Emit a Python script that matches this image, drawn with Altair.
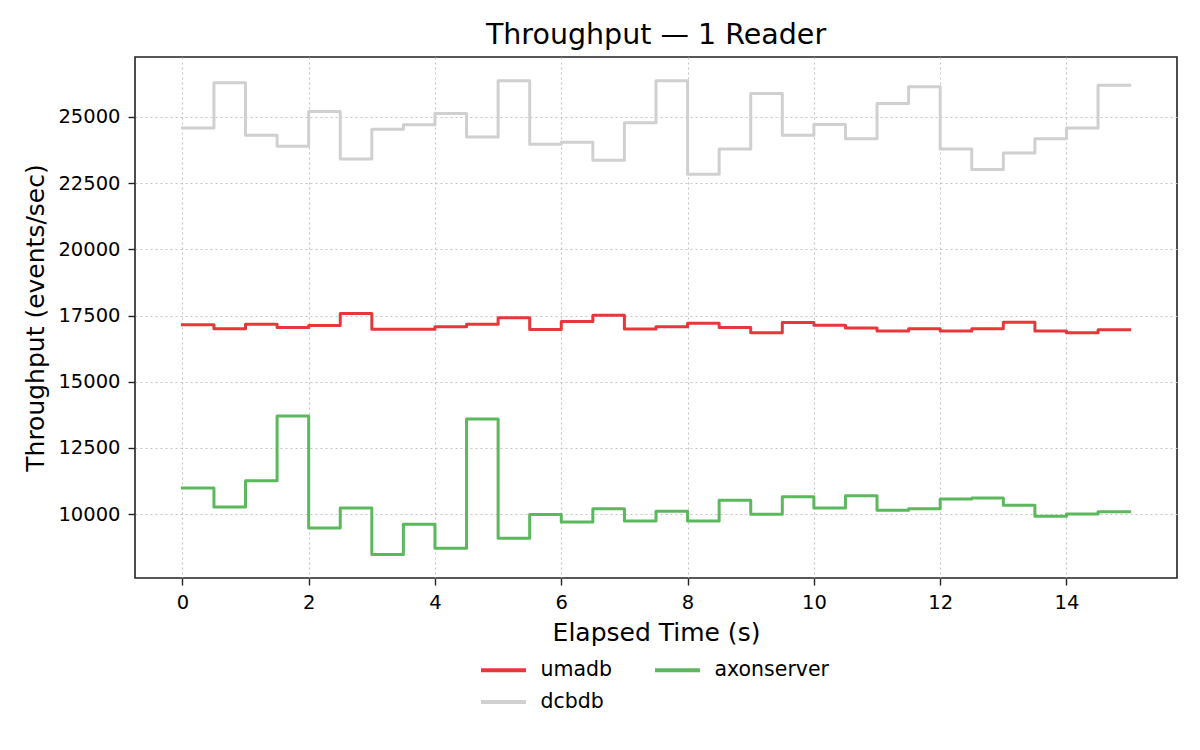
import altair as alt
import pandas as pd

time_s = [0, 0.5, 1, 1.5, 2, 2.5, 3, 3.5, 4, 4.5, 5, 5.5, 6, 6.5, 7, 7.5,
          8, 8.5, 9, 9.5, 10, 10.5, 11, 11.5, 12, 12.5, 13, 13.5, 14, 14.5, 15]

umadb = [17150, 17000, 17170, 17050, 17120, 17580, 16980, 16980, 17080, 17170,
         17420, 16970, 17270, 17510, 16990, 17080, 17210, 17050, 16850, 17240,
         17130, 17030, 16920, 17000, 16920, 17000, 17250, 16920, 16850, 16960, 16960]

dcbdb = [24580, 26290, 24310, 23890, 25200, 23410, 24530, 24700, 25130, 24240,
         26360, 23970, 24040, 23360, 24780, 26360, 22830, 23790, 25880, 24310,
         24710, 24170, 25500, 26140, 23790, 23010, 23640, 24170, 24580, 26190, 26190]

axonserver = [10990, 10270, 11260, 13710, 9480, 10230, 8480, 9620, 8710, 13590,
              9090, 9990, 9700, 10200, 9740, 10110, 9740, 10530, 10000, 10660,
              10230, 10700, 10150, 10200, 10570, 10610, 10340, 9920, 10010, 10090, 10090]

series_names = ["umadb", "dcbdb", "axonserver"]
series_colors = ["#e8373a", "#d0d0d0", "#5cb85c"]
x_ticks = [0, 2, 4, 6, 8, 10, 12, 14]
y_ticks = [10000, 12500, 15000, 17500, 20000, 22500, 25000]

rows = []
for name, vals in [("umadb", umadb), ("dcbdb", dcbdb), ("axonserver", axonserver)]:
    for t, v in zip(time_s, vals):
        rows.append({"t": t, "value": v, "series": name})
df = pd.DataFrame(rows)

W, H = 1042, 521
FONT = "DejaVu Sans"

chart = alt.Chart(df).mark_line(
    interpolate="step-after", strokeWidth=3, strokeJoin="round", strokeCap="square"
).encode(
    x=alt.X("t:Q",
            scale=alt.Scale(domain=[-0.75, 15.75], nice=False, zero=False),
            axis=alt.Axis(values=x_ticks, title="Elapsed Time (s)", format="d",
                          labelFontSize=19.5, titleFontSize=25, titleFontWeight="normal",
                          labelPadding=8, labelFlush=False,
                          titleX=W / 2, titleY=62, titleAlign="center",
                          titleBaseline="alphabetic")),
    y=alt.Y("value:Q",
            scale=alt.Scale(domain=[7590, 27260], nice=False, zero=False),
            axis=alt.Axis(values=y_ticks, title="Throughput (events/sec)", format="d",
                          labelFontSize=19.5, titleFontSize=25, titleFontWeight="normal",
                          labelPadding=8, titleAngle=270, titleX=-92, titleY=H / 2,
                          titleAlign="center", titleBaseline="alphabetic")),
    color=alt.Color("series:N",
                    scale=alt.Scale(domain=series_names, range=series_colors),
                    legend=alt.Legend(title=None, orient="none", legendX=346, legendY=602,
                                      columns=2, symbolType="M-2.5,0H2.5", symbolSize=324,
                                      symbolStrokeWidth=4, symbolOffset=11.5, labelOffset=26,
                                      labelFontSize=20.5, labelFont=FONT, labelColor="black",
                                      columnPadding=34, rowPadding=10, padding=0)),
    order=alt.Order("t:Q"),
).properties(
    width=W, height=H,
    autosize=alt.AutoSizeParams(type="none"),
    padding={"left": 127, "top": 49, "right": 15, "bottom": 160},
    title=alt.TitleParams("Throughput — 1 Reader", fontSize=28.5, font=FONT,
                          fontWeight="normal", anchor="middle", offset=8, color="black"),
).configure_view(
    stroke="#222222", strokeWidth=1.6
).configure_axis(
    labelFont=FONT, titleFont=FONT, labelColor="black", titleColor="black",
    domain=False, tickColor="#222222", tickWidth=1.4, tickSize=7,
    gridColor="#c4c4c4", gridDash=[2, 3], gridWidth=1.1,
)

chart.save("out.html", embed_options={"renderer": "svg", "actions": False})
